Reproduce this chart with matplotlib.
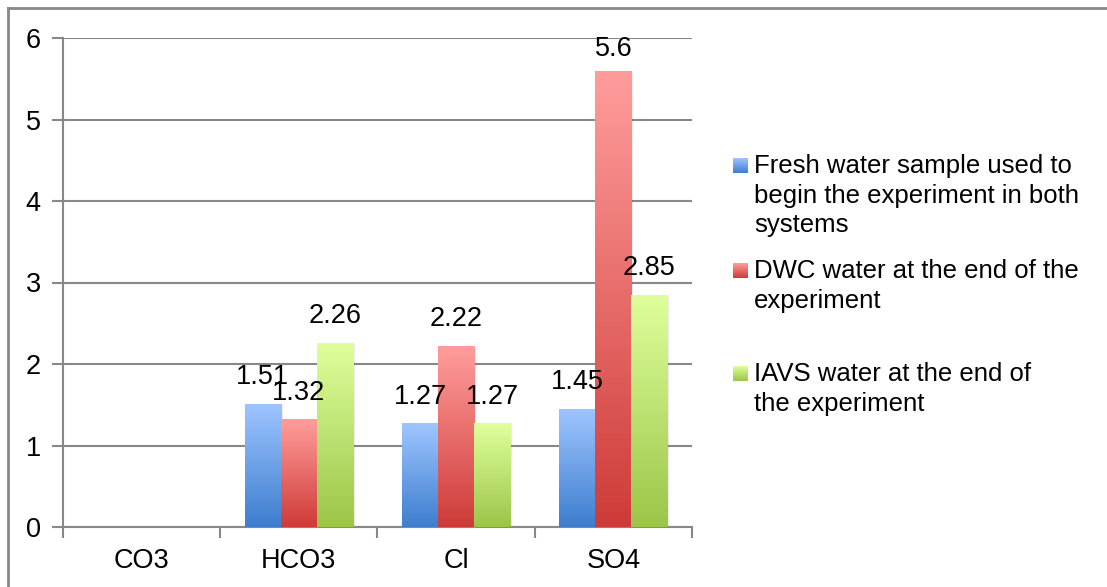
import numpy as np
import matplotlib
matplotlib.use("Agg")
import matplotlib.pyplot as plt
from matplotlib.colors import LinearSegmentedColormap
from matplotlib.lines import Line2D

plt.rcParams['font.family'] = ['Liberation Sans', 'DejaVu Sans']

# Ion concentrations per water sample
ions = ["CO3", "HCO3", "Cl", "SO4"]
fresh = [np.nan, 1.51, 1.27, 1.45]
dwc = [np.nan, 1.32, 2.22, 5.6]
iavs = [np.nan, 2.26, 1.27, 2.85]
series_labels = [
    "Fresh water sample used to\nbegin the experiment in both\nsystems",
    "DWC water at the end of the\nexperiment",
    "IAVS water at the end of\nthe experiment",
]
yticks = [0, 1, 2, 3, 4, 5, 6]

# light top -> dark bottom, like the office-style bar fills
gradients = [
    ("#3D7ECF", "#9FC5FF"),
    ("#CE3B38", "#FF9D9C"),
    ("#9CC548", "#DFFF9C"),
]

W, H = 1107, 587
fig = plt.figure(figsize=(W / 100, H / 100), dpi=100)
ax = fig.add_axes([63 / W, (H - 527) / H, (692 - 63) / W, (527 - 38) / H])

x = np.arange(len(ions))
width = 0.229
offsets = [-width, 0, width]
grad = np.linspace(0, 1, 256).reshape(-1, 1)
label_ceiling = 5.7  # keep value labels inside the plot area

for vals, off, (c0, c1) in zip([fresh, dwc, iavs], offsets, gradients):
    cmap = LinearSegmentedColormap.from_list("g", [c0, c1])
    heights = np.nan_to_num(np.array(vals, dtype=float))
    bars = ax.bar(x + off, heights, width, color="none", edgecolor="none", zorder=3)
    for bar, v in zip(bars, vals):
        if np.isnan(v):
            continue
        bx, bw, bh = bar.get_x(), bar.get_width(), bar.get_height()
        # soft drop shadow
        ax.add_patch(plt.Rectangle((bx + 0.012, 0), bw, bh - 0.02, color="#000000",
                                   alpha=0.08, zorder=2, lw=0))
        im = ax.imshow(grad, extent=[bx, bx + bw, 0, bh], origin="lower",
                       cmap=cmap, aspect="auto", zorder=3)
        im.set_clip_path(bar)
        ax.text(bx + bw / 2, min(bh + 0.17, label_ceiling), f"{v:g}",
                ha="center", va="bottom", fontsize=19.5, color="black", zorder=4)

ax.set_xlim(-0.5, len(ions) - 0.5)
ax.set_ylim(0, 6)
ax.set_yticks(yticks)
ax.tick_params(axis="y", length=8, width=1.5, color="#888888", pad=8, labelsize=19.5)

# category boundaries carry the tick marks, names sit in between
ax.set_xticks(np.arange(len(ions) + 1) - 0.5)
ax.set_xticklabels([])
ax.set_xticks(x, minor=True)
ax.set_xticklabels(ions, minor=True)
ax.tick_params(axis="x", which="major", length=8, width=1.5, color="#888888")
ax.tick_params(axis="x", which="minor", length=0, pad=15, labelsize=19.5)

ax.grid(axis="y", color="#888888", linewidth=1.5, zorder=0)
ax.set_axisbelow(True)
for s in ["top", "right"]:
    ax.spines[s].set_visible(False)
for s in ["left", "bottom"]:
    ax.spines[s].set_color("#888888")
    ax.spines[s].set_linewidth(1.5)

# outer chart frame (only left and top edges visible)
fig.add_artist(Line2D([8 / W, 8 / W], [0, 1 - 8 / H], color="#888888", lw=2))
fig.add_artist(Line2D([8 / W, 1], [1 - 8 / H, 1 - 8 / H], color="#888888", lw=2))

# legend drawn by hand to keep Excel-like spacing
legend_tops = [158, 263, 366]
for (c0, c1), label, top in zip(gradients, series_labels, legend_tops):
    cmap = LinearSegmentedColormap.from_list("g", [c0, c1])
    kax = fig.add_axes([733 / W, (H - top - 15) / H, 15 / W, 15 / H])
    kax.imshow(grad, origin="lower", cmap=cmap, aspect="auto")
    kax.axis("off")
    fig.text(754 / W, 1 - (top - 4) / H, label, ha="left", va="top",
             fontsize=18.5, linespacing=1.3)

fig.savefig("out.png", dpi=100)
